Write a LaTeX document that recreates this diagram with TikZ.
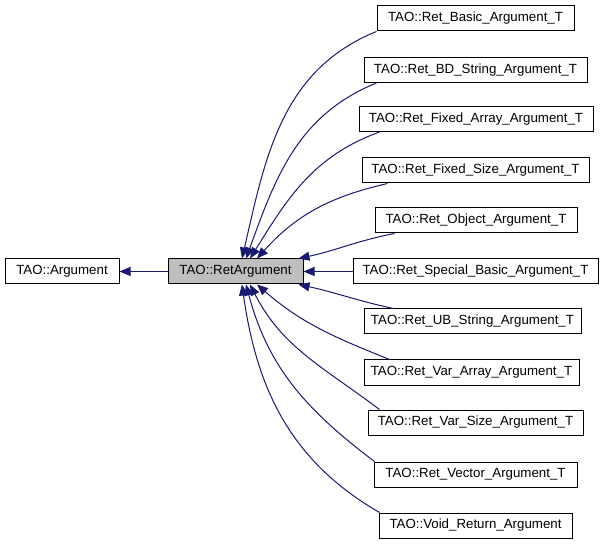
\documentclass[tikz,border=0pt]{standalone}
\usepackage{fontspec}
\setmainfont{Liberation Sans}
\usepackage{tikz}
\usetikzlibrary{arrows.meta}

\definecolor{edgeblue}{RGB}{25,25,112}

\begin{document}
\begin{tikzpicture}
[x=1pt,y=1pt,
 every node/.style={draw,line width=1pt,rectangle,minimum height=25pt,inner sep=0pt,
   font=\fontsize{13.3}{15}\selectfont},
 cur/.style={fill=gray!50},
 edge/.style={edgeblue,line width=1pt,-{Triangle[length=11pt,width=9pt]}}]
  \useasboundingbox (0,0) rectangle (605,544);

  \node[minimum width=114pt] (arg) at (62,272.5)   {TAO::Argument};
  \node[cur,minimum width=135pt] (ret) at (235.5,272.5)   {TAO::RetArgument};

  \node[minimum width=197pt] (basic) at (475.5,525.5)   {TAO::Ret\_Basic\_Argument\_T};
  \node[minimum width=223pt] (bdstr) at (475.5,474)   {TAO::Ret\_BD\_String\_Argument\_T};
  \node[minimum width=234pt] (fixarr) at (476,425)   {TAO::Ret\_Fixed\_Array\_Argument\_T};
  \node[minimum width=227pt] (fixsize) at (475.5,373.5)   {TAO::Ret\_Fixed\_Size\_Argument\_T};
  \node[minimum width=202pt] (object) at (476,323.5)   {TAO::Ret\_Object\_Argument\_T};
  \node[minimum width=245pt] (special) at (475.5,272.5)   {TAO::Ret\_Special\_Basic\_Argument\_T};
  \node[minimum width=217pt] (ubstr) at (472.5,222.5)   {TAO::Ret\_UB\_String\_Argument\_T};
  \node[minimum width=215pt] (vararr) at (471.5,171.5)   {TAO::Ret\_Var\_Array\_Argument\_T};
  \node[minimum width=215pt] (varsize) at (475.5,121.5)   {TAO::Ret\_Var\_Size\_Argument\_T};
  \node[minimum width=203pt] (vector) at (475.5,69.5)   {TAO::Ret\_Vector\_Argument\_T};
  \node[minimum width=193pt] (void) at (475.5,18.5)   {TAO::Void\_Return\_Argument};

  \draw[edge] (ret) -- (arg);
  \draw[edge] (special) -- (ret);

  \foreach \from/\a/\to/\b/\o/\i in {
      basic.south west/0/ret.north/6.5/202/77,
      bdstr.south west/13/ret.north/10.5/202/70,
      fixarr.south west/21/ret.north/14.5/200/58,
      fixsize.south west/26/ret.north/21.5/193/48,
      object.south west/20/ret.north east/-5/191/12,
      ubstr.north west/30/ret.south east/-5/168/348,
      vararr.north west/26/ret.south/21.5/158/319,
      varsize.north west/12/ret.south/14.5/143/297,
      vector.north west/1/ret.south/10.5/143/285,
      void.north west/1/ret.south/6.5/150/278}
    \draw[edge] ([xshift=\a pt]\from) to[out=\o,in=\i] ([xshift=\b pt]\to);
\end{tikzpicture}
\end{document}
